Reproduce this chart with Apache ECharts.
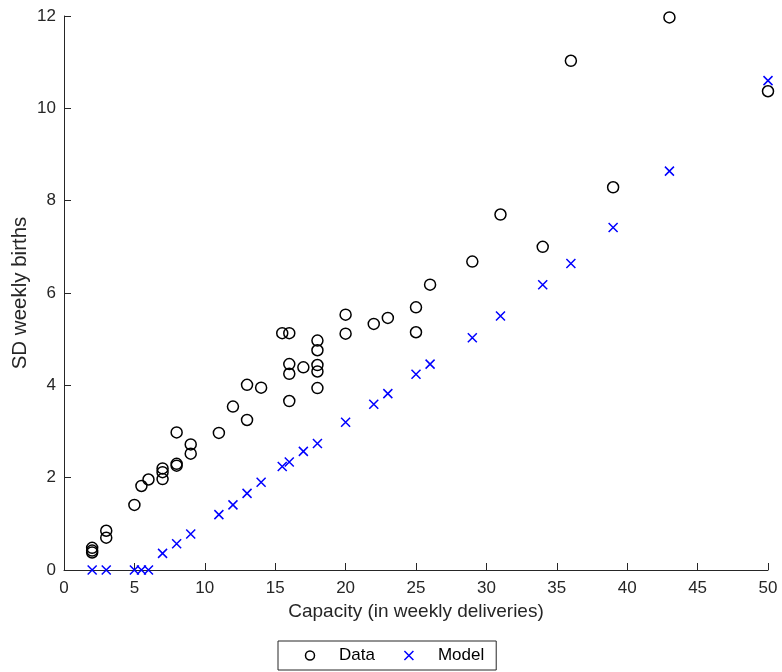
<!DOCTYPE html>
<html>
<head>
<meta charset="utf-8">
<script src="https://cdn.jsdelivr.net/npm/echarts@6/dist/echarts.min.js"></script>
<style>
  html, body { margin: 0; padding: 0; background: #fff; }
  #chart { width: 782px; height: 672px; }
</style>
</head>
<body>
<div id="chart"></div>
<script>
// observed capacity vs SD of weekly births
const dataX = [2, 2, 2, 3, 3, 5, 5.5, 6, 7, 7, 7, 8, 8, 8, 9, 9, 11, 12, 13, 13, 14,
  15.5, 16, 16, 16, 16, 17, 18, 18, 18, 18, 18, 20, 20, 22, 23, 25, 25, 26, 29, 31, 34, 36, 39, 43, 50]
const dataY = [0.48, 0.42, 0.38, 0.85, 0.70, 1.41, 1.82, 1.96, 2.2, 2.12, 1.97, 2.98, 2.3, 2.26, 2.72, 2.52, 2.97, 3.54, 4.01, 3.25, 3.95,
  5.13, 5.13, 4.46, 4.25, 3.66, 4.39, 4.97, 4.76, 4.44, 4.3, 3.94, 5.53, 5.12, 5.33, 5.46, 5.69, 5.15, 6.18, 6.68, 7.7, 7.0, 11.03, 8.29, 11.97, 10.37]

// model prediction
const modelX = [2, 3, 5, 5.5, 6, 7, 8, 9, 11, 12, 13, 14, 15.5, 16, 17, 18, 20, 22, 23, 25, 26, 29, 31, 34, 36, 39, 43, 50]
const modelY = [0, 0, 0, 0, 0, 0.36, 0.57, 0.78, 1.2, 1.41, 1.66, 1.9, 2.24, 2.34, 2.57, 2.74, 3.2, 3.59, 3.82, 4.24, 4.46, 5.03, 5.5, 6.18, 6.64, 7.42, 8.64, 10.6]

const font = 'Liberation Sans, Arial, Helvetica, sans-serif'
const axisColor = '#262626'
const crossPath = 'path://M0,0L10,10M10,0L0,10'

const chart = echarts.init(document.getElementById('chart'))
chart.setOption({
  animation: false,
  grid: { left: 64, right: 14, top: 16, bottom: 102, containLabel: false, outerBoundsMode: 'none' },
  xAxis: {
    type: 'value',
    min: 0,
    max: 50,
    interval: 5,
    name: 'Capacity (in weekly deliveries)',
    nameLocation: 'middle',
    nameGap: 21,
    nameTextStyle: { fontFamily: font, fontSize: 19, color: axisColor },
    axisLine: { onZero: false, lineStyle: { color: axisColor, width: 1 } },
    axisTick: { inside: true, length: 7, lineStyle: { color: axisColor } },
    axisLabel: { fontFamily: font, fontSize: 17, color: axisColor, margin: 10 },
    splitLine: { show: false }
  },
  yAxis: {
    type: 'value',
    min: 0,
    max: 12,
    interval: 2,
    name: 'SD weekly births',
    nameLocation: 'middle',
    nameGap: 33,
    nameMoveOverlap: false,
    nameTextStyle: { fontFamily: font, fontSize: 20.5, color: axisColor },
    axisLine: { show: true, lineStyle: { color: axisColor, width: 1 } },
    axisTick: { show: true, inside: true, length: 7, lineStyle: { color: axisColor } },
    axisLabel: { fontFamily: font, fontSize: 17, color: axisColor, margin: 8 },
    splitLine: { show: false }
  },
  legend: {
    left: 278,
    top: 641,
    orient: 'horizontal',
    padding: [6, 12, 6, 25],
    itemGap: 27,
    itemWidth: 48,
    itemHeight: 9,
    borderColor: axisColor,
    borderWidth: 1,
    textStyle: { fontFamily: font, fontSize: 17, color: '#000' },
    data: [
      { name: 'Data', icon: 'circle', itemStyle: { color: 'none', borderColor: '#000', borderWidth: 1.5 } },
      { name: 'Model', icon: crossPath, itemStyle: { color: 'none', borderColor: '#0000ff', borderWidth: 1.5 } }
    ]
  },
  series: [
    {
      name: 'Data',
      type: 'scatter',
      symbol: 'circle',
      symbolSize: 11,
      itemStyle: { color: 'none', borderColor: '#000', borderWidth: 1.5, opacity: 1 },
      data: dataX.map((x, i) => [x, dataY[i]])
    },
    {
      name: 'Model',
      type: 'scatter',
      symbol: crossPath,
      symbolSize: 9,
      itemStyle: { color: 'none', borderColor: '#0000ff', borderWidth: 1.5, opacity: 1 },
      data: modelX.map((x, i) => [x, modelY[i]])
    }
  ]
})
</script>
</body>
</html>
